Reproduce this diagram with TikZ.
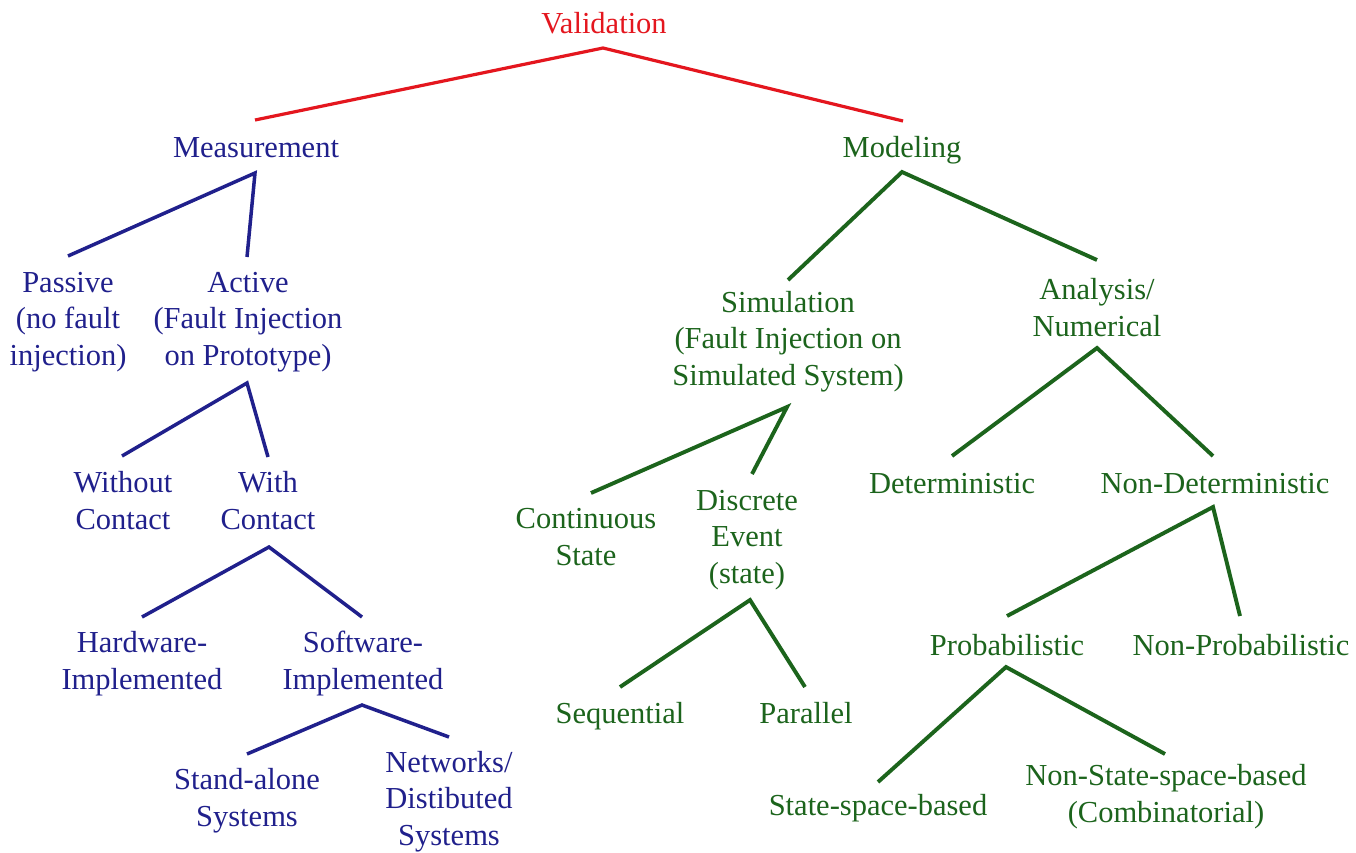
\documentclass[tikz,border=0pt]{standalone}
\usepackage{fontspec}
\setmainfont{Liberation Serif}
\definecolor{vred}{RGB}{228,22,30}
\definecolor{vblue}{RGB}{32,32,140}
\definecolor{vgreen}{RGB}{28,100,28}
\begin{document}
\begin{tikzpicture}[x=1pt,y=-1pt,
  lbl/.style={anchor=base,inner sep=0pt,align=center,font=\fontsize{30.5}{36.5}\selectfont},
  rlbl/.style={lbl,text=vred},
  blbl/.style={lbl,text=vblue},
  glbl/.style={lbl,text=vgreen},
  rline/.style={draw=vred,line width=3.2pt},
  bline/.style={draw=vblue,line width=3.5pt},
  gline/.style={draw=vgreen,line width=3.9pt}]
\useasboundingbox[fill=white] (0,0) rectangle (1356,852);
% labels (position = centre x, baseline of the last line)
\node[rlbl] (val) at (604,33) {Validation};
\node[blbl] (meas) at (256,157) {Measurement};
\node[glbl] (model) at (902,157) {Modeling};
\node[blbl] (passive) at (68,365) {Passive\\(no fault\\injection)};
\node[blbl] (active) at (248,365) {Active\\(Fault Injection\\on Prototype)};
\node[blbl] (without) at (123,529) {Without\\Contact};
\node[blbl] (with) at (268,529) {With\\Contact};
\node[blbl] (hw) at (142,689) {Hardware-\\Implemented};
\node[blbl] (sw) at (363,689) {Software-\\Implemented};
\node[blbl] (stand) at (247,826) {Stand-alone\\Systems};
\node[blbl] (net) at (449,845) {Networks/\\Distibuted\\Systems};
\node[glbl] (sim) at (788,385) {Simulation\\(Fault Injection on\\Simulated System)};
\node[glbl] (ana) at (1097,336) {Analysis/\\Numerical};
\node[glbl] (cont) at (586,565) {Continuous\\State};
\node[glbl] (disc) at (747,583) {Discrete\\Event\\(state)};
\node[glbl] (seq) at (620,723) {Sequential};
\node[glbl] (par) at (806,723) {Parallel};
\node[glbl] (det) at (952,493) {Deterministic};
\node[glbl] (nondet) at (1215,493) {Non-Deterministic};
\node[glbl] (prob) at (1007,655) {Probabilistic};
\node[glbl] (nonprob) at (1241,655) {Non-Probabilistic};
\node[glbl] (ssb) at (878,815) {State-space-based};
\node[glbl] (nssb) at (1166,822) {Non-State-space-based\\(Combinatorial)};
% connector points
\coordinate (valA) at (603,48);   \coordinate (valL) at (255,120);  \coordinate (valR) at (903,121);
\coordinate (measA) at (255,173); \coordinate (measL) at (68,256);  \coordinate (measR) at (247,257);
\coordinate (actA) at (247,383);  \coordinate (actL) at (122,456);  \coordinate (actR) at (268,457);
\coordinate (withA) at (269,547); \coordinate (withL) at (142,617); \coordinate (withR) at (362,617);
\coordinate (swA) at (362,705);   \coordinate (swL) at (247,754);   \coordinate (swR) at (449,737);
\coordinate (modA) at (902,172);  \coordinate (modL) at (788,280);  \coordinate (modR) at (1097,260);
\coordinate (simA) at (787,407);  \coordinate (simL) at (591,493);  \coordinate (simR) at (752,474);
\coordinate (anaA) at (1097,348); \coordinate (anaL) at (952,456);  \coordinate (anaR) at (1213,456);
\coordinate (discA) at (750,600); \coordinate (discL) at (620,687); \coordinate (discR) at (805,687);
\coordinate (ndA) at (1213,507);  \coordinate (ndL) at (1007,616);  \coordinate (ndR) at (1240,616);
\coordinate (probA) at (1006,667);\coordinate (probL) at (878,782); \coordinate (probR) at (1165,754);
% connectors
\draw[rline] (valL) -- (valA) -- (valR);
\draw[bline] (measL) -- (measA) -- (measR);
\draw[bline] (actL) -- (actA) -- (actR);
\draw[bline] (withL) -- (withA) -- (withR);
\draw[bline] (swL) -- (swA) -- (swR);
\draw[gline] (modL) -- (modA) -- (modR);
\draw[gline] (simL) -- (simA) -- (simR);
\draw[gline] (anaL) -- (anaA) -- (anaR);
\draw[gline] (discL) -- (discA) -- (discR);
\draw[gline] (ndL) -- (ndA) -- (ndR);
\draw[gline] (probL) -- (probA) -- (probR);
\end{tikzpicture}
\end{document}
